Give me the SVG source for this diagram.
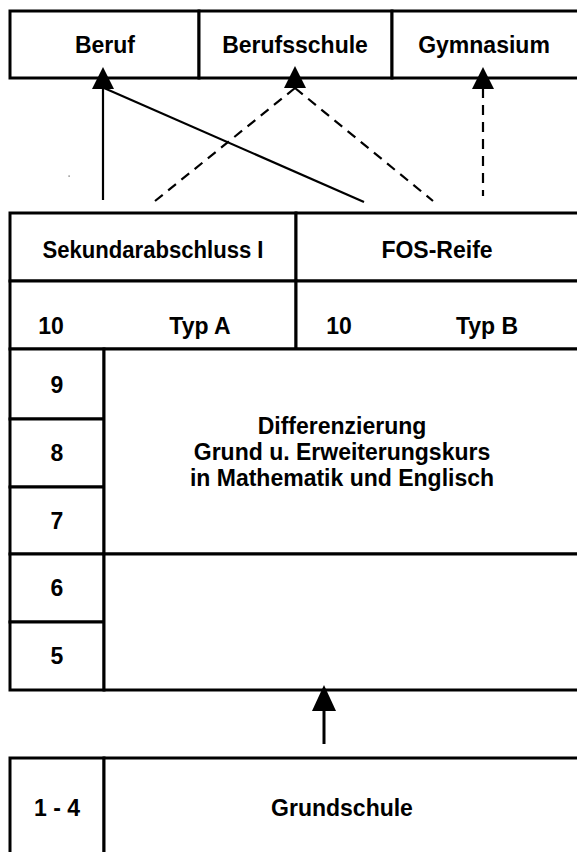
<svg xmlns="http://www.w3.org/2000/svg" width="577" height="852" viewBox="0 0 577 852">
<style>
.box{fill:#fff;stroke:#000;stroke-width:3}
.ln{stroke:#000;stroke-width:3;fill:none}
.t{font-family:"Liberation Sans",Arial,sans-serif;font-weight:bold;font-size:23px;fill:#000;text-anchor:middle}
.c{stroke:#000;stroke-width:2.2;fill:none}
.d{stroke-dasharray:10,7}
.ah{fill:#000}
</style>
<rect width="577" height="852" fill="#fff"/>
<g id="beruf"><rect class="box" x="10" y="11" width="189" height="67"/><text class="t" x="105" y="53">Beruf</text></g>
<g id="berufsschule"><rect class="box" x="199" y="11" width="193" height="67"/><text class="t" x="295" y="53">Berufsschule</text></g>
<g id="gymnasium"><rect class="box" x="392" y="11" width="190" height="67"/><text class="t" x="484" y="53">Gymnasium</text></g>
<g id="sekundarabschluss"><rect class="box" x="10" y="213" width="286" height="68"/><text class="t" x="153" y="258" textLength="221" lengthAdjust="spacingAndGlyphs">Sekundarabschluss I</text></g>
<g id="fos-reife"><rect class="box" x="296" y="213" width="286" height="68"/><text class="t" x="437" y="258">FOS-Reife</text></g>
<g id="typ-a"><rect class="box" x="10" y="281" width="286" height="68"/><text class="t" x="51" y="334">10</text><text class="t" x="200" y="334">Typ A</text></g>
<g id="typ-b"><rect class="box" x="296" y="281" width="286" height="68"/><text class="t" x="339" y="334">10</text><text class="t" x="487" y="334">Typ B</text></g>
<g id="k9"><rect class="box" x="10" y="349" width="94" height="70"/><text class="t" x="57" y="393">9</text></g>
<g id="k8"><rect class="box" x="10" y="419" width="94" height="68"/><text class="t" x="57" y="461">8</text></g>
<g id="k7"><rect class="box" x="10" y="487" width="94" height="67"/><text class="t" x="57" y="529">7</text></g>
<g id="k6"><rect class="box" x="10" y="554" width="94" height="68"/><text class="t" x="57" y="596">6</text></g>
<g id="k5"><rect class="box" x="10" y="622" width="94" height="68"/><text class="t" x="57" y="664">5</text></g>
<g id="differenzierung"><rect class="box" x="104" y="349" width="478" height="205"/><text class="t" x="342" y="434">Differenzierung</text><text class="t" x="342" y="460">Grund u. Erweiterungskurs</text><text class="t" x="342" y="486">in Mathematik und Englisch</text></g>
<g id="orientierung"><rect class="box" x="104" y="554" width="478" height="136"/></g>
<g id="k1-4"><rect class="box" x="10" y="758" width="94" height="100"/><text class="t" x="57" y="816">1 - 4</text></g>
<g id="grundschule"><rect class="box" x="104" y="758" width="478" height="100"/><text class="t" x="342" y="816">Grundschule</text></g>
<g id="connectors">
<line class="c" x1="103" y1="86" x2="103" y2="200"/>
<line class="c" x1="104" y1="88" x2="364" y2="202"/>
<line class="c d" x1="295" y1="88" x2="155" y2="201"/>
<line class="c d" x1="295" y1="88" x2="433" y2="201"/>
<line class="c d" x1="483" y1="88" x2="483" y2="196"/>
<polygon class="ah" points="103,67 92,89 114,89"/>
<polygon class="ah" points="295,66 284,88 306,88"/>
<polygon class="ah" points="483,67 472,89 494,89"/>
<line class="ln" x1="324" y1="708" x2="324" y2="744"/>
<polygon class="ah" points="324,685 312,711 336,711"/>
</g>
<rect x="68.5" y="175.5" width="1.2" height="1.2" fill="#555"/>
</svg>
